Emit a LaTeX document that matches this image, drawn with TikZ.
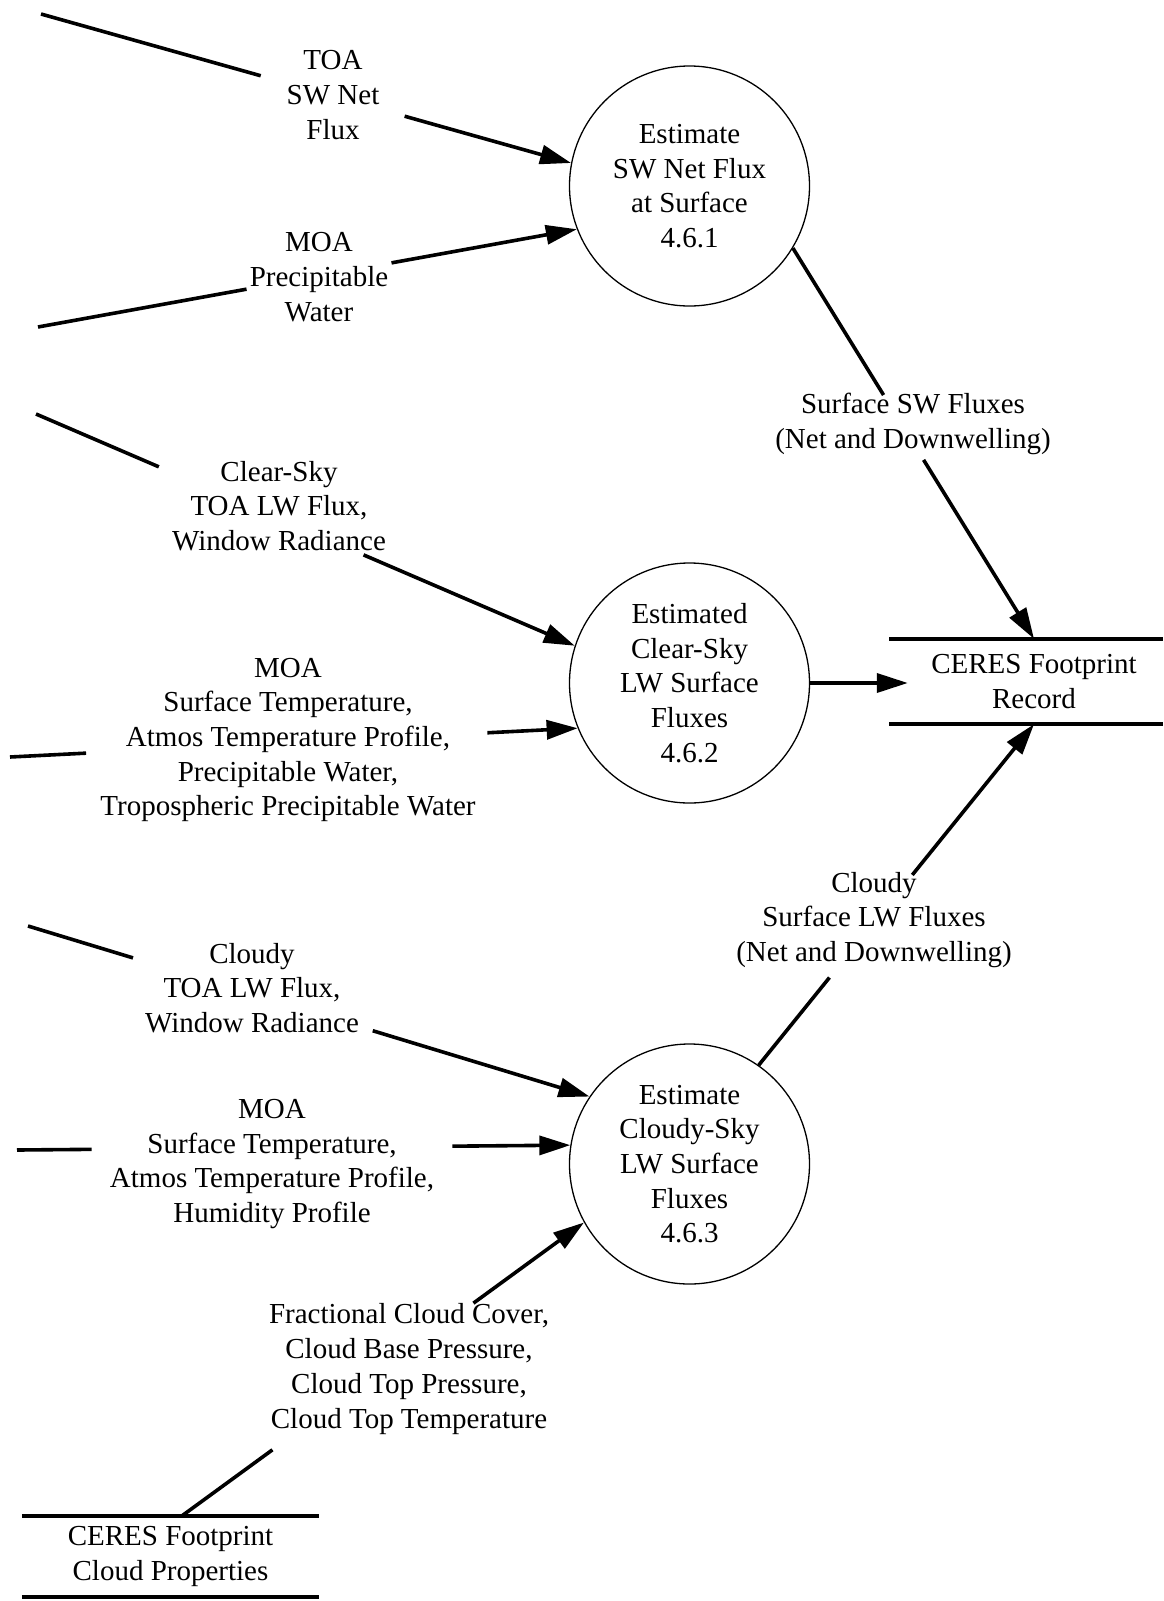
\documentclass[tikz,border=0pt]{standalone}
\usepackage{fontspec}
\setmainfont{Liberation Serif}
\usetikzlibrary{arrows.meta,calc}
\begin{document}
\begin{tikzpicture}[x=1pt,y=-1pt,
  txt/.style={font=\fontsize{29}{34.7}\selectfont, align=center, inner sep=0pt},
  proc/.style={txt, circle, draw, line width=1.3pt, minimum size=240pt},
  flow/.style={line width=3.6pt},
  flowarrow/.style={flow, -{Triangle[length=31pt,width=19pt]}},
  storeline/.style={line width=4pt},
]
\useasboundingbox (0,0) rectangle (1163,1601);

% processes
\node[proc] (c1) at (689.5,186) {Estimate\\SW Net Flux\\at Surface\\4.6.1};
\node[proc] (c2) at (689.5,683) {Estimated\\Clear-Sky\\LW Surface\\Fluxes\\4.6.2};
\node[proc] (c3) at (689.5,1164) {Estimate\\Cloudy-Sky\\LW Surface\\Fluxes\\4.6.3};

% stores
\node[txt, minimum height=85pt, minimum width=252pt] (rec) at (1034,681.5) {CERES Footprint\\Record};
\coordinate (recL) at (889,0);
\coordinate (recR) at (1163,0);
\draw[storeline] (rec.north -| recL) -- (rec.north -| recR);
\draw[storeline] (rec.south -| recL) -- (rec.south -| recR);

\node[txt, minimum height=81pt, minimum width=297pt] (cld) at (170.5,1556.5) {CERES Footprint\\Cloud Properties};
\draw[storeline] (cld.north west) -- (cld.north east);
\draw[storeline] (cld.south west) -- (cld.south east);

% free ends
\coordinate (s1) at (41,14);
\coordinate (s2) at (38,327);
\coordinate (s3) at (36,414);
\coordinate (s4) at (10,757);
\coordinate (s5) at (28,926);
\coordinate (s6) at (17,1150);
\coordinate (k7) at ($(cld.north)+(11.5,0)$);

% labels
\node[txt] (l1) at (333,95) {TOA\\SW Net\\Flux};
\node[txt] (l2) at (319,277) {MOA\\Precipitable\\Water};
\node[txt] (l3) at (279,506) {Clear-Sky\\TOA LW Flux,\\Window Radiance};
\node[txt] (l4) at (288,740) {MOA\\Surface Temperature,\\Atmos Temperature Profile,\\Precipitable Water,\\Tropospheric Precipitable Water};
\node[txt] (l5) at (252,988) {Cloudy\\TOA LW Flux,\\Window Radiance};
\node[txt] (l6) at (272,1164) {MOA\\Surface Temperature,\\Atmos Temperature Profile,\\Humidity Profile};
\node[txt] (l7) at (409,1369) {Fractional Cloud Cover,\\Cloud Base Pressure,\\Cloud Top Pressure,\\Cloud Top Temperature};
\node[txt] (l8) at (913,424) {Surface SW Fluxes\\(Net and Downwelling)};
\node[txt] (l9) at (874,920) {Cloudy\\Surface LW Fluxes\\(Net and Downwelling)};

% flows (broken where the label sits)
\draw[flow] (s1) -- ($(s1)!0.4145!(c1.169)$);
\draw[flowarrow] ($(s1)!0.686!(c1.169)$) -- (c1.169);

\draw[flow] (s2) -- ($(s2)!0.387!(c1.201)$);
\draw[flowarrow] ($(s2)!0.656!(c1.201)$) -- (c1.201);

\draw[flow] (s3) -- ($(s3)!0.228!(c2.162)$);
\draw[flowarrow] ($(s3)!0.608!(c2.162)$) -- (c2.162);

\draw[flow] (s4) -- ($(s4)!0.134!(c2.202)$);
\draw[flowarrow] ($(s4)!0.841!(c2.202)$) -- (c2.202);

\draw[flow] (s5) -- ($(s5)!0.187!(c3.146)$);
\draw[flowarrow] ($(s5)!0.614!(c3.146)$) -- (c3.146);

\draw[flow] (s6) -- ($(s6)!0.135!(c3.171)$);
\draw[flowarrow] ($(s6)!0.787!(c3.171)$) -- (c3.171);

\draw[flow] (k7) -- ($(k7)!0.225!(c3.209)$);
\draw[flowarrow] ($(k7)!0.725!(c3.209)$) -- (c3.209);

\draw[flow] (c1.-31) -- ($(c1.-31)!0.376!(rec.north)$);
\draw[flowarrow] ($(c1.-31)!0.542!(rec.north)$) -- (rec.north);

\draw[flow] (c3.55) -- ($(c3.55)!0.257!(rec.south)$);
\draw[flowarrow] ($(c3.55)!0.558!(rec.south)$) -- (rec.south);

\draw[flowarrow] (c2.east) -- (c2.east -| rec.west);
\end{tikzpicture}
\end{document}
